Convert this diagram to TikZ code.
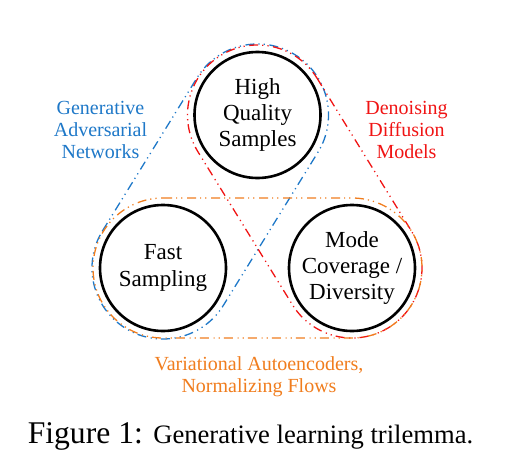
\documentclass[tikz,border=0pt]{standalone}
\usepackage{fontspec}
\setmainfont{Liberation Serif}
\usepackage{xcolor}
\definecolor{ganblue}{HTML}{1E78C8}
\definecolor{ddmred}{HTML}{F01414}
\definecolor{vaeorange}{HTML}{F07D1E}
\usepackage{tikz}
\usetikzlibrary{calc}

% rounded hull round two circle nodes
\newcommand\hull[4]{%
  \draw[#1] let \p1=($(#3)-(#2)$), \n1={atan2(\y1,\x1)} in
    ($(#2)+({\n1+90}:#4)$) -- ($(#3)+({\n1+90}:#4)$)
    arc[start angle=\n1+90, end angle=\n1-90, radius=#4]
    -- ($(#2)+({\n1-90}:#4)$)
    arc[start angle=\n1-90, end angle=\n1-270, radius=#4] -- cycle;}

\begin{document}
\begin{tikzpicture}[
  x=0.5pt, y=0.5pt,
  goal/.style={circle,draw=black,line width=1.3pt,minimum size=63pt,
               inner sep=0pt,align=center,
               font=\fontsize{11.5}{13.2}\selectfont},
  family/.style={align=center,font=\fontsize{10}{10.8}\selectfont},
  hullline/.style={line width=0.65pt,
                   dash pattern=on 4.5pt off 2pt on 0.6pt off 2pt on 0.6pt off 2.3pt}
]
\useasboundingbox (0,0) rectangle (525,-471);

% Ziele
\node[goal] (hq) at (257.5,-115) {High\\Quality\\Samples};
\node[goal] (fs) at (163,-268)   {Fast\\Sampling};
\node[goal] (mc) at (352,-268)   {Mode\\Coverage /\\Diversity};

% Modellfamilien
\hull{hullline,ganblue}{fs}{hq}{35.5pt}
\hull{hullline,ddmred}{hq}{mc}{35pt}
\hull{hullline,vaeorange}{fs}{mc}{35pt}

\node[family,text=ganblue] (gan) at (100.5,-130) {Generative\\Adversarial\\Networks};
\node[family,text=ddmred] (ddm) at (406.5,-130) {Denoising\\Diffusion\\Models};
\node[family,text=vaeorange] (vae) at (259,-377) {Variational Autoencoders,\\Normalizing Flows};

% Bildunterschrift
\node[anchor=base] (cap) at (250.5,-443)
  {\fontsize{15.8}{17}\selectfont Figure 1: \fontsize{13.3}{15}\selectfont Generative learning trilemma.};
\end{tikzpicture}
\end{document}
